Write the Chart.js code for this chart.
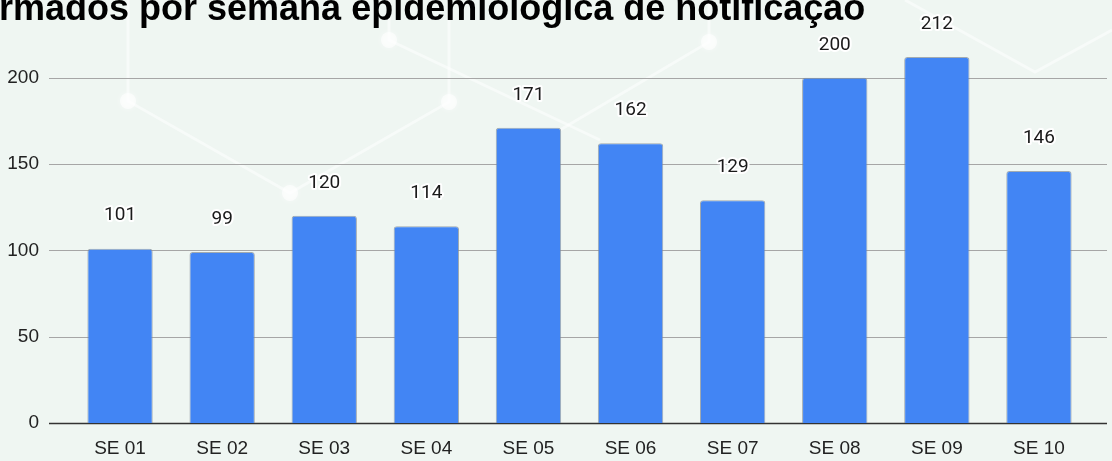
<!DOCTYPE html>
<html>
<head>
<meta charset="utf-8">
<script src="https://cdn.jsdelivr.net/npm/chart.js@4.4.1/dist/chart.umd.min.js"></script>
<style>
  html, body { margin: 0; padding: 0; background: #eff6f2; }
  #wrap { width: 1112px; height: 461px; position: relative; overflow: hidden; }
</style>
</head>
<body>
<div id="wrap"><canvas id="grafico" width="1112" height="461"></canvas></div>
<script>
// dados
const semanas = ["SE 01", "SE 02", "SE 03", "SE 04", "SE 05", "SE 06", "SE 07", "SE 08", "SE 09", "SE 10"];
const casos = [101, 99, 120, 114, 171, 162, 129, 200, 212, 146];
const yTicks = [0, 50, 100, 150, 200];
const tituloVisivel = "rmados por semana epidemiológica de notificação";

// ---------- fundo com a "rede" decorativa ----------
const fundo = {
  id: "fundo",
  beforeDraw(chart) {
    const c = chart.ctx;
    c.save();
    c.fillStyle = "#eff6f2";
    c.fillRect(0, 0, chart.width, chart.height);
    c.strokeStyle = "rgba(255,255,255,0.5)";
    c.lineWidth = 3;
    const linhas = [
      [[128, 0], [128, 101], [290, 193], [449, 102], [449, 0]],
      [[389, 0], [389, 40], [600, 140]],
      [[709, 0], [709, 42], [560, 130]],
      [[905, 0], [1035, 72], [1112, 30]]
    ];
    linhas.forEach((pts) => {
      c.beginPath();
      pts.forEach((p, i) => (i ? c.lineTo(p[0], p[1]) : c.moveTo(p[0], p[1])));
      c.stroke();
    });
    c.fillStyle = "rgba(255,255,255,0.6)";
    c.shadowColor = "rgba(255,255,255,0.8)";
    c.shadowBlur = 6;
    [[128, 101], [290, 193], [389, 40], [449, 102], [709, 42]].forEach((p) => {
      c.beginPath();
      c.arc(p[0], p[1], 8, 0, Math.PI * 2);
      c.fill();
    });
    c.shadowBlur = 0;
    // título (cortado à esquerda como no original)
    c.fillStyle = "#000";
    c.font = "bold 36px 'Liberation Sans', Arial, sans-serif";
    c.textBaseline = "alphabetic";
    c.textAlign = "left";
    c.fillText(tituloVisivel, -1, 20);
    c.restore();
  },
  // linhas de grade mais largas que a área das barras
  beforeDatasetsDraw(chart) {
    const c = chart.ctx;
    const y = chart.scales.y;
    c.save();
    yTicks.forEach((v) => {
      const py = Math.round(y.getPixelForValue(v)) + 0.5;
      c.beginPath();
      c.moveTo(49, py);
      c.lineTo(1107, py);
      if (v === 0) {
        c.strokeStyle = "#333";
        c.lineWidth = 1.5;
      } else {
        c.strokeStyle = "#a6a6a6";
        c.lineWidth = 1.2;
      }
      c.stroke();
    });
    c.restore();
  },
  // rótulos de valor com contorno branco
  afterDatasetsDraw(chart) {
    const c = chart.ctx;
    const meta = chart.getDatasetMeta(0);
    c.save();
    c.font = "19px Roboto, sans-serif";
    c.textAlign = "center";
    c.textBaseline = "middle";
    c.lineJoin = "round";
    meta.data.forEach((bar, i) => {
      const txt = String(casos[i]);
      const ty = bar.y - 33;
      c.strokeStyle = "#fff";
      c.lineWidth = 4;
      c.strokeText(txt, bar.x, ty);
      c.fillStyle = "#1a1a1a";
      c.fillText(txt, bar.x, ty);
    });
    c.restore();
  }
};

new Chart(document.getElementById("grafico"), {
  type: "bar",
  data: {
    labels: semanas,
    datasets: [{
      label: "Casos",
      data: casos,
      backgroundColor: "#4285f4",
      borderColor: "rgba(130,140,150,0.7)",
      borderWidth: 1,
      borderRadius: 3,
      borderSkipped: "start",
      barPercentage: 0.8,
      categoryPercentage: 0.8
    }]
  },
  options: {
    responsive: false,
    animation: false,
    layout: { padding: { top: 26, right: 22, left: 0, bottom: 0 } },
    plugins: { legend: { display: false }, tooltip: { enabled: false }, title: { display: false } },
    scales: {
      x: {
        grid: { display: false, drawTicks: false },
        border: { display: false },
        ticks: {
          color: "#222",
          font: { family: "'Liberation Sans', Arial, sans-serif", size: 19 },
          padding: 14,
          maxRotation: 0
        },
        afterFit(scale) {
          scale.height = 38;
          scale.paddingLeft = 0;
          scale.paddingRight = 0;
        }
      },
      y: {
        min: 0,
        max: 230,
        grid: { display: false, drawTicks: false },
        border: { display: false },
        ticks: {
          stepSize: 50,
          includeBounds: false,
          color: "#222",
          font: { family: "'Liberation Sans', Arial, sans-serif", size: 19 },
          padding: 30
        },
        afterFit(scale) {
          scale.width = 69;
          scale.paddingTop = 0;
          scale.paddingBottom = 0;
        }
      }
    }
  },
  plugins: [fundo]
});
</script>
</body>
</html>
